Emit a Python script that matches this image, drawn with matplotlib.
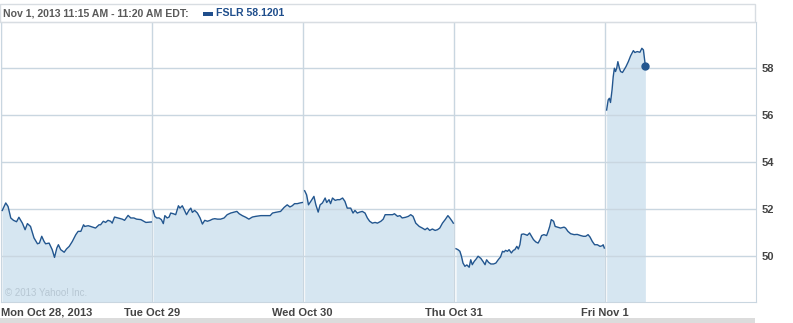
import matplotlib
matplotlib.use("Agg")
import matplotlib.pyplot as plt
from matplotlib.patches import Rectangle

# intraday FSLR prices, minutes after 9:30 open
DAYS = ["Mon Oct 28, 2013", "Tue Oct 29", "Wed Oct 30", "Thu Oct 31", "Fri Nov 1"]

mon_min = [4, 13, 19, 26, 33, 41, 47, 56, 63, 69, 77, 86, 95, 100, 106, 112, 116, 125, 133, 139,
           145, 149, 155, 164, 170, 177, 185, 194, 200, 207, 214, 217, 226, 232, 245, 254, 258, 265, 271, 277,
           284, 288, 294, 303, 314, 320, 329, 336, 344, 351, 362, 375, 389]
mon_px = [51.94, 52.26, 52.11, 51.62, 51.52, 51.46, 51.65, 51.40, 51.12, 51.38, 51.26, 50.77, 50.52, 50.55,
          50.84, 50.62, 50.52, 50.55, 50.27, 49.94, 50.34, 50.48, 50.27, 50.16, 50.30, 50.41, 50.62, 50.91,
          51.05, 51.05, 51.33, 51.26, 51.29, 51.26, 51.19, 51.33, 51.33, 51.48, 51.43, 51.52, 51.48, 51.40,
          51.66, 51.62, 51.57, 51.52, 51.73, 51.62, 51.62, 51.57, 51.55, 51.43, 51.45]

tue_min = [4, 8, 13, 19, 25, 30, 34, 40, 45, 49, 56, 62, 69, 73, 79, 84, 90, 96, 101, 105,
           111, 118, 125, 131, 137, 144, 151, 157, 163, 170, 178, 187, 195, 204, 213, 220, 226, 234, 243, 251,
           260, 269, 282, 294, 306, 312, 320, 333, 342, 350, 357, 363, 369, 376, 383, 389]
tue_px = [51.93, 51.69, 51.62, 51.62, 51.55, 51.38, 51.72, 51.62, 51.66, 51.83, 51.80, 51.76, 52.14, 52.04,
          52.14, 51.97, 51.76, 51.94, 52.04, 51.86, 51.94, 51.83, 51.62, 51.36, 51.52, 51.48, 51.52, 51.57,
          51.59, 51.57, 51.57, 51.62, 51.76, 51.83, 51.87, 51.90, 51.80, 51.72, 51.65, 51.57, 51.66, 51.69,
          51.72, 51.72, 51.72, 51.83, 51.86, 51.90, 52.07, 52.18, 52.09, 52.14, 52.23, 52.23, 52.26, 52.28]

wed_min = [5, 10, 15, 21, 29, 34, 40, 45, 51, 58, 62, 68, 72, 77, 84, 90, 96, 103, 109, 115,
           124, 130, 135, 141, 147, 154, 161, 167, 173, 180, 187, 193, 202, 208, 213, 223, 232, 237, 245, 251,
           257, 266, 273, 279, 285, 292, 301, 309, 316, 322, 328, 335, 342, 348, 354, 361, 368, 375, 380, 386,
           389]
wed_px = [52.78, 52.61, 52.18, 52.33, 52.54, 52.18, 51.87, 52.18, 52.26, 52.47, 52.28, 52.40, 52.23, 52.47,
          52.37, 52.40, 52.40, 52.47, 52.33, 52.04, 52.04, 51.83, 51.94, 51.83, 51.87, 51.90, 51.83, 51.62,
          51.48, 51.40, 51.43, 51.40, 51.48, 51.57, 51.76, 51.76, 51.76, 51.80, 51.69, 51.72, 51.62, 51.65,
          51.69, 51.76, 51.69, 51.40, 51.26, 51.19, 51.12, 51.19, 51.09, 51.15, 51.09, 51.12, 51.19, 51.40,
          51.55, 51.72, 51.62, 51.48, 51.40]

thu_min = [6, 11, 16, 20, 24, 29, 34, 40, 44, 48, 53, 58, 63, 70, 76, 81, 85, 90, 96, 103,
           109, 115, 121, 126, 130, 134, 139, 143, 149, 154, 158, 163, 167, 171, 175, 180, 186, 190, 196, 201,
           206, 212, 218, 223, 227, 233, 240, 244, 248, 252, 258, 262, 268, 276, 285, 289, 295, 302, 311, 319,
           328, 335, 341, 347, 352, 358, 364, 371, 378, 384, 386, 389]
thu_px = [50.31, 50.27, 50.20, 49.99, 49.70, 49.56, 49.62, 49.52, 49.84, 49.63, 49.77, 49.87, 49.99, 49.90,
          49.76, 49.63, 49.84, 49.73, 49.66, 49.66, 49.70, 49.84, 49.96, 50.20, 50.17, 50.24, 50.20, 50.27,
          50.13, 50.24, 50.27, 50.41, 50.30, 50.48, 50.92, 50.94, 50.91, 50.88, 50.98, 50.84, 50.70, 50.60,
          50.55, 50.70, 50.87, 50.91, 50.87, 51.05, 51.26, 51.55, 51.48, 51.26, 51.23, 51.19, 51.23, 51.19,
          51.05, 50.95, 50.91, 50.92, 50.87, 50.84, 50.84, 50.91, 50.81, 50.62, 50.48, 50.48, 50.41, 50.44,
          50.48, 50.34]

fri_min = [5, 9, 12, 15, 19, 22, 25, 28, 31, 34, 38, 41, 46, 50, 55, 61, 67, 74, 78, 84, 91, 96, 100, 105]
fri_px = [56.22, 56.65, 56.72, 56.54, 57.08, 57.64, 58.00, 57.86, 58.00, 58.28, 58.00, 57.86, 57.82, 57.93,
          58.07, 58.28, 58.53, 58.75, 58.67, 58.71, 58.68, 58.85, 58.78, 58.10]

SESSION = 390.0
YTICKS = [50, 52, 54, 56, 58]
HEADER = "Nov 1, 2013 11:15 AM - 11:20 AM EDT:"
LEGEND = "FSLR 58.1201"

LINE = "#22568f"
FILL = "#d6e6f1"
GRID = "#c9d6e0"
W, H = 793, 323

plt.rcParams["font.family"] = ["Liberation Sans", "DejaVu Sans"]

fig = plt.figure(figsize=(W / 100, H / 100), dpi=100)
ax = fig.add_axes([0.7 / W, 21 / H, 755 / W, 280 / H])
ymin, ymax = 48.04, 59.97

for d, (mins, px) in enumerate([(mon_min, mon_px), (tue_min, tue_px), (wed_min, wed_px),
                                (thu_min, thu_px), (fri_min, fri_px)]):
    xs = [d + m / SESSION for m in mins]
    ax.fill_between(xs, px, ymin, color=FILL, lw=0, zorder=1)
    ax.plot(xs, px, color=LINE, lw=1.0, zorder=3)
    if d == 4:
        ax.plot(xs[-1], px[-1], "o", color=LINE, ms=5, zorder=4)

ax.set_xlim(0, 5)
ax.set_ylim(ymin, ymax)
ax.set_axisbelow(False)
ax.grid(True, color=GRID, lw=1.0, zorder=2)
for s in ax.spines.values():
    s.set_color(GRID)
ax.yaxis.tick_right()
ax.set_yticks(YTICKS)
ax.set_yticklabels([str(v) for v in YTICKS])
ax.set_xticks(range(len(DAYS)))
ax.set_xticklabels(DAYS)
ax.get_xticklabels()[0].set_ha("left")
ax.tick_params(length=0, labelsize=8, labelcolor="#444444")
ax.tick_params(axis="x", pad=4)
ax.tick_params(axis="y", pad=4)
for t in ax.get_xticklabels() + ax.get_yticklabels():
    t.set_fontweight("bold")

ax.text(0.03, 48.3, "\u00a9 2013 Yahoo! Inc.", fontsize=7, color="#b7c7d3", zorder=2)

# header box and legend
fig.patches.append(Rectangle((0, (H - 22) / H), 755 / W, 18 / H, transform=fig.transFigure,
                             fill=False, ec="#d8dde2", lw=1.0))
fig.text(3 / W, 1 - 13.5 / H, HEADER, fontsize=7.6, fontweight="bold", color="#5a5a5a", va="center")
fig.patches.append(Rectangle((203 / W, 1 - 15.5 / H), 10 / W, 3.5 / H, transform=fig.transFigure,
                             color="#1f4e8c", lw=0))
fig.text(216 / W, 1 - 13.5 / H, LEGEND, fontsize=7.6, fontweight="bold", color="#1f4e8c", va="center")

# bottom bar
fig.patches.append(Rectangle((0, 0), 755 / W, 5 / H, transform=fig.transFigure, color="#dcdcdc", lw=0))

fig.savefig("out.png", dpi=100)
